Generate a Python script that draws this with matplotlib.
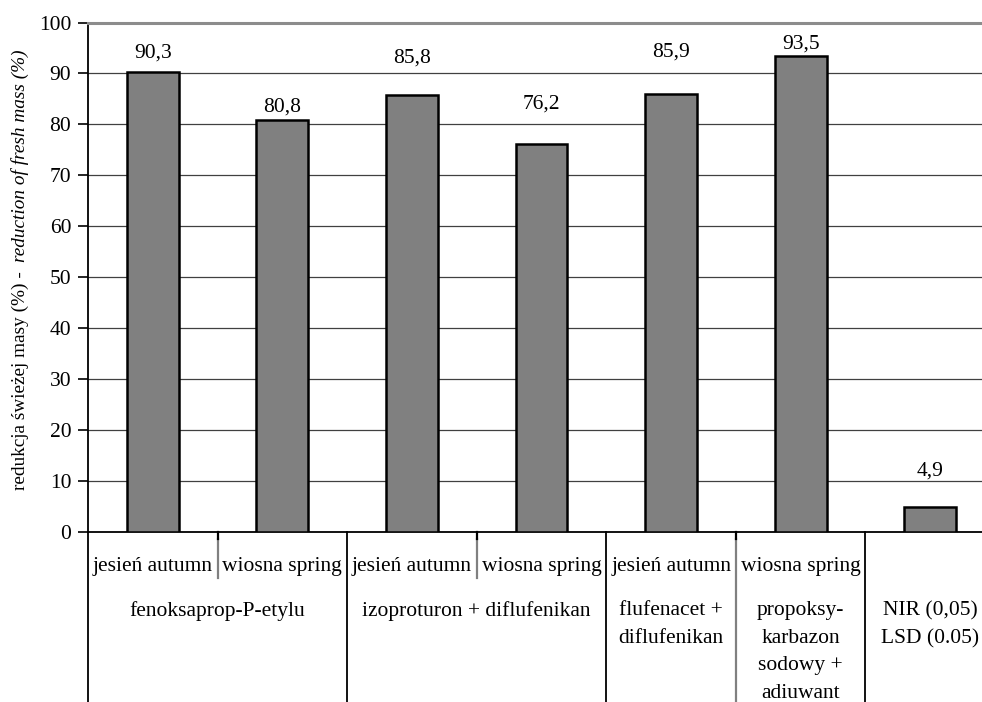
import numpy as np
import matplotlib
matplotlib.use("Agg")
import matplotlib.pyplot as plt

# dane
seasons = ["jesień autumn", "wiosna spring", "jesień autumn", "wiosna spring",
           "jesień autumn", "wiosna spring", ""]
values = [90.3, 80.8, 85.8, 76.2, 85.9, 93.5, 4.9]
label_y = [94.0, 83.4, 93.0, 84.0, 94.2, 95.8, 12.0]
groups = ["fenoksaprop-P-etylu", "izoproturon + diflufenikan",
          "flufenacet +\ndiflufenikan", "propoksy-\nkarbazon\nsodowy +\nadiuwant",
          "NIR (0,05)\nLSD (0.05)"]
group_pos = [0.5, 2.5, 4, 5, 6]
yticks = list(range(0, 101, 10))

plt.rcParams['font.family'] = ['Liberation Serif', 'DejaVu Serif']
FS = 15.5

fig = plt.figure(figsize=(9.82, 7.02), dpi=100)
ax = fig.add_axes([88 / 982, 170 / 702, 907 / 982, 509.5 / 702])

x = np.arange(len(values))
ax.bar(x, values, width=0.40, color='#808080', edgecolor='black', linewidth=1.8, zorder=3)
ax.set_xlim(-0.5, 6.5)
ax.set_ylim(0, 100)

# linie siatki
for t in yticks[1:-1]:
    ax.axhline(t, color='#404040', lw=0.9, zorder=1)

ax.set_yticks(yticks)
ax.set_yticklabels([str(t) for t in yticks], fontsize=FS)
ax.tick_params(axis='y', length=7, width=1.2, pad=5, direction='out')
ax.set_xticks([])

ax.spines['right'].set_visible(False)
ax.spines['top'].set_color('#8c8c8c')
ax.spines['top'].set_linewidth(2.2)
ax.spines['left'].set_linewidth(1.3)
ax.spines['bottom'].set_linewidth(1.3)

# etykiety wartosci
for xi, v, ly in zip(x, values, label_y):
    ax.text(xi, ly, f"{v:.1f}".replace('.', ','), ha='center', va='center', fontsize=FS)

# linie tabeli pod osia
tr = ax.get_xaxis_transform()
bottom = -170 / 509.5
tick = -7 / 509.5
short = -46 / 509.5
ax.plot([-0.5, -0.5], [0, bottom], color='black', lw=1.3, transform=tr, clip_on=False)
for b in [1.5, 3.5, 5.5]:
    ax.plot([b, b], [0, bottom], color='black', lw=1.3, transform=tr, clip_on=False)
for b in [0.5, 2.5]:
    ax.plot([b, b], [tick, short], color='#808080', lw=1.6, transform=tr, clip_on=False)
    ax.plot([b, b], [0, tick], color='black', lw=1.6, transform=tr, clip_on=False)
ax.plot([4.5, 4.5], [tick, bottom], color='#808080', lw=1.6, transform=tr, clip_on=False)
ax.plot([4.5, 4.5], [0, tick], color='black', lw=1.6, transform=tr, clip_on=False)

for xi, s in zip(x, seasons):
    ax.text(xi, -35 / 509.5, s, ha='center', va='center', fontsize=FS, transform=tr)
for gp, g in zip(group_pos, groups):
    ax.text(gp, -69 / 509.5, g, ha='center', va='top', fontsize=FS,
            linespacing=1.62, transform=tr)

# opis osi y (czesc normalna + kursywa)
fig.canvas.draw()
t1 = fig.text(20 / 982, 212 / 702, "redukcja świeżej masy (%) - ", rotation=90,
              ha='center', va='bottom', fontsize=13.9)
fig.canvas.draw()
bb = t1.get_window_extent()
fig.text(20 / 982, (bb.y1 + 4) / 702, "reduction of fresh mass (%)", rotation=90,
         ha='center', va='bottom', fontsize=13.9, style='italic')

fig.savefig("out.png", dpi=100)
